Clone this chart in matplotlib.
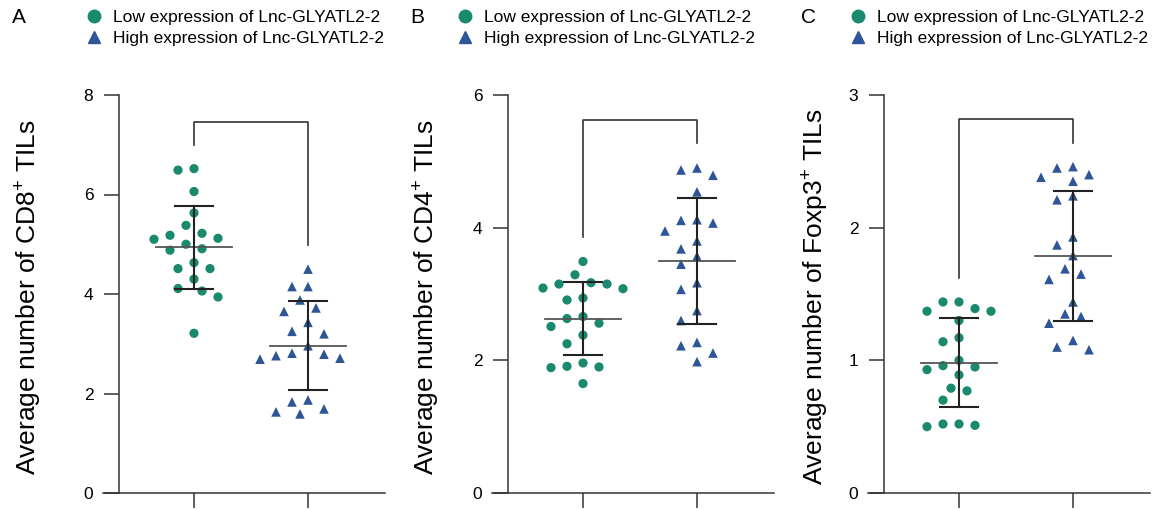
import numpy as np
import matplotlib
matplotlib.use('Agg')
import matplotlib.pyplot as plt
from matplotlib.lines import Line2D

plt.rcParams['font.family'] = ['Liberation Sans', 'DejaVu Sans']
plt.rcParams['mathtext.fontset'] = 'custom'
plt.rcParams['mathtext.rm'] = 'Liberation Sans'

# values
cd8_low = [6.52, 6.49, 6.06, 5.63, 5.38, 5.18, 5.22, 5.10, 5.12, 5.00,
           4.88, 4.91, 4.63, 4.51, 4.51, 4.30, 4.06, 4.11, 3.94, 3.21]
cd8_high = [4.50, 4.15, 4.15, 3.88, 3.72, 3.65, 3.43, 3.20, 3.25, 2.96,
            2.79, 2.71, 2.69, 2.81, 2.76, 1.87, 1.83, 1.69, 1.63, 1.59]
cd4_low = [3.49, 3.29, 3.09, 3.15, 3.15, 3.17, 3.08, 2.91, 2.94, 2.66,
           2.56, 2.63, 2.51, 2.38, 2.25, 1.96, 1.90, 1.91, 1.89, 1.65]
cd4_high = [4.87, 4.90, 4.79, 4.54, 4.12, 4.07, 4.11, 3.95, 3.80, 3.68,
            3.57, 3.45, 3.07, 3.17, 2.75, 2.60, 2.27, 2.22, 2.11, 1.98]
foxp3_low = [1.44, 1.37, 1.44, 1.37, 1.39, 1.30, 1.14, 1.17, 0.96, 0.95,
             0.89, 1.00, 0.93, 0.79, 0.77, 0.70, 0.50, 0.52, 0.51, 0.52]
foxp3_high = [2.45, 2.46, 2.38, 2.40, 2.35, 2.21, 2.24, 1.93, 1.87, 1.79,
              1.69, 1.65, 1.61, 1.44, 1.35, 1.33, 1.28, 1.15, 1.08, 1.10]

panels = ['A', 'B', 'C']
ylabels = ['Average number of CD8$^{+}$ TILs',
           'Average number of CD4$^{+}$ TILs',
           'Average number of Foxp3$^{+}$ TILs']
ymaxes = [8, 6, 3]
yticks = [[0, 2, 4, 6, 8], [0, 2, 4, 6], [0, 1, 2, 3]]
# bracket: top, left leg end, right leg end
brackets = [(7.46, 7.0, 4.98), (5.62, 3.86, 5.28), (2.82, 1.62, 2.64)]
legend_labels = ['Low expression of Lnc-GLYATL2-2', 'High expression of Lnc-GLYATL2-2']

green = '#1a8a6e'
blue = '#2e5597'
axcol = '#333333'

W, H = 1158, 509
fig = plt.figure(figsize=(W / 100, H / 100), dpi=100)

yaxis_px = [119, 508, 884]
label_px = [28, 426, 814]
letter_px = [12, 410, 801]
legend_px = [86, 457, 850]


def swarm(vals, ax, slot_px=8, min_px=14):
    # greedy beeswarm in pixel space
    to_px = ax.transData
    order = np.argsort(vals)[::-1]
    placed = []
    offs = np.zeros(len(vals))
    ypx = [to_px.transform((0, v))[1] for v in vals]
    cand = [0]
    for s in range(1, 12):
        cand += [-s, s]
    for i in order:
        for c in cand:
            ok = True
            for (px, py) in placed:
                if np.hypot(c * slot_px - px, ypx[i] - py) < min_px:
                    ok = False
                    break
            if ok:
                break
        placed.append((c * slot_px, ypx[i]))
        offs[i] = c * slot_px
    x0 = to_px.transform((0, 0))[0]
    x1 = to_px.transform((1, 0))[0]
    return offs / (x1 - x0)


data = [(cd8_low, cd8_high), (cd4_low, cd4_high), (foxp3_low, foxp3_high)]
for p in range(3):
    left = yaxis_px[p] - 16
    ax = fig.add_axes([left / W, (H - 493) / H, 282 / W, 398 / H])
    ax.set_xlim(-91 / 114, 191 / 114)
    ax.set_ylim(0, ymaxes[p])
    for s in ['top', 'right']:
        ax.spines[s].set_visible(False)
    ax.spines['left'].set_position(('data', -75 / 114))
    for s in ['left', 'bottom']:
        ax.spines[s].set_color(axcol)
        ax.spines[s].set_linewidth(1.1)
    ax.set_yticks(yticks[p])
    ax.set_xticks([0, 1])
    ax.set_xticklabels([])
    ax.tick_params(axis='both', direction='out', length=10.5, width=1.1,
                   color=axcol, labelsize=12.5, pad=8)

    for g, (vals, col, mk) in enumerate(zip(data[p], [green, blue], ['o', '^'])):
        vals = np.array(vals)
        xo = swarm(vals, ax)
        ax.scatter(g + xo, vals, s=44 if mk == 'o' else 48, marker=mk, color=col,
                   edgecolors='none', zorder=3)
        m = vals.mean()
        sd = vals.std(ddof=1)
        ax.plot([g - 0.33, g + 0.33], [m, m], color='#555555', lw=1.3, zorder=4)
        ax.plot([g, g], [m - sd, m + sd], color='#222222', lw=1.5, zorder=4)
        for y in [m - sd, m + sd]:
            ax.plot([g - 0.165, g + 0.165], [y, y], color='#222222', lw=1.5, zorder=4)

    top, l_end, r_end = brackets[p]
    ax.plot([0, 0, 1, 1], [l_end, top, top, r_end], color=axcol, lw=1.2,
            clip_on=False)

    fig.text(label_px[p] / W, (H - 297) / H, ylabels[p], rotation=90,
             ha='center', va='center', fontsize=19)
    fig.text(letter_px[p] / W, (H - 8) / H, panels[p], ha='left', va='top',
             fontsize=15)

    handles = [Line2D([], [], ls='none', marker='o', color=green, markersize=9),
               Line2D([], [], ls='none', marker='^', color=blue, markersize=8.5)]
    fig.legend(handles, legend_labels, loc='upper left',
               bbox_to_anchor=(legend_px[p] / W, (H - 10) / H), frameon=False,
               fontsize=12.5, handlelength=0.95, handletextpad=0.6,
               labelspacing=0.32, borderpad=0, borderaxespad=0)

fig.savefig('out.png', dpi=100)
